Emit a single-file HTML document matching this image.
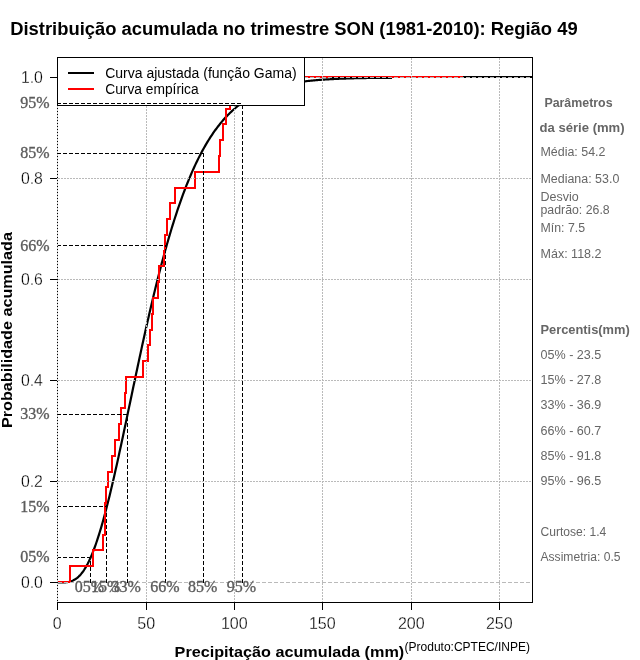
<!DOCTYPE html>
<html><head><meta charset="utf-8"><title>Distribuição acumulada</title>
<style>
html,body{margin:0;padding:0;background:#fff;}
body{width:640px;height:660px;overflow:hidden;font-family:"Liberation Sans",sans-serif;}
svg{display:block;font-family:"Liberation Sans",sans-serif;will-change:transform;transform:translateZ(0);}
.serif{font-family:"Liberation Serif",serif;}
</style></head><body>
<svg width="640" height="660" viewBox="0 0 640 660">
<rect x="0" y="0" width="640" height="660" fill="#fff"/>
<!-- curves -->
<path d="M57.50,582.50 L58.38,582.50 L59.27,582.50 L60.15,582.50 L61.04,582.49 L61.92,582.48 L62.80,582.46 L63.69,582.44 L64.57,582.39 L65.46,582.33 L66.34,582.25 L67.22,582.14 L68.11,582.00 L68.99,581.83 L69.88,581.61 L70.76,581.36 L71.64,581.06 L72.53,580.71 L73.41,580.30 L74.30,579.84 L75.18,579.31 L76.06,578.72 L76.95,578.06 L77.83,577.33 L78.72,576.52 L79.60,575.64 L80.48,574.68 L81.37,573.64 L82.25,572.51 L83.14,571.30 L84.02,570.01 L84.90,568.63 L85.79,567.15 L86.67,565.59 L87.56,563.94 L88.44,562.20 L89.32,560.37 L90.21,558.45 L91.09,556.44 L91.98,554.34 L92.86,552.15 L93.74,549.87 L94.63,547.50 L95.51,545.05 L96.40,542.51 L97.28,539.89 L98.16,537.19 L99.05,534.41 L99.93,531.54 L100.82,528.60 L101.70,525.59 L102.58,522.50 L103.47,519.34 L104.35,516.10 L105.24,512.81 L106.12,509.45 L107.00,506.02 L107.89,502.54 L108.77,498.99 L109.66,495.39 L110.54,491.74 L111.42,488.04 L112.31,484.29 L113.19,480.49 L114.08,476.65 L114.96,472.77 L115.84,468.86 L116.73,464.90 L117.61,460.91 L118.50,456.90 L119.38,452.85 L120.26,448.78 L121.15,444.68 L122.03,440.56 L122.92,436.42 L123.80,432.27 L124.68,428.10 L125.57,423.92 L126.45,419.73 L127.34,415.53 L128.22,411.33 L129.10,407.12 L129.99,402.91 L130.87,398.70 L131.76,394.50 L132.64,390.29 L133.52,386.10 L134.41,381.91 L135.29,377.73 L136.18,373.56 L137.06,369.40 L137.94,365.26 L138.83,361.13 L139.71,357.02 L140.60,352.93 L141.48,348.86 L142.36,344.80 L143.25,340.78 L144.13,336.77 L145.02,332.79 L145.90,328.84 L146.78,324.91 L147.67,321.01 L148.55,317.14 L149.44,313.30 L150.32,309.49 L151.20,305.71 L152.09,301.96 L152.97,298.25 L153.86,294.57 L154.74,290.93 L155.62,287.31 L156.51,283.74 L157.39,280.20 L158.28,276.70 L159.16,273.23 L160.04,269.81 L160.93,266.42 L161.81,263.07 L162.70,259.75 L163.58,256.48 L164.46,253.24 L165.35,250.05 L166.23,246.89 L167.12,243.77 L168.00,240.69 L168.88,237.66 L169.77,234.66 L170.65,231.70 L171.54,228.78 L172.42,225.90 L173.30,223.06 L174.19,220.27 L175.07,217.51 L175.96,214.79 L176.84,212.11 L177.72,209.47 L178.61,206.87 L179.49,204.31 L180.38,201.79 L181.26,199.30 L182.14,196.86 L183.03,194.45 L183.91,192.08 L184.80,189.75 L185.68,187.46 L186.56,185.20 L187.45,182.98 L188.33,180.80 L189.22,178.66 L190.10,176.55 L190.98,174.47 L191.87,172.43 L192.75,170.43 L193.64,168.46 L194.52,166.53 L195.40,164.63 L196.29,162.77 L197.17,160.93 L198.06,159.13 L198.94,157.37 L199.82,155.63 L200.71,153.93 L201.59,152.26 L202.48,150.62 L203.36,149.01 L204.24,147.43 L205.13,145.88 L206.01,144.36 L206.90,142.87 L207.78,141.41 L208.66,139.98 L209.55,138.57 L210.43,137.19 L211.32,135.84 L212.20,134.52 L213.08,133.22 L213.97,131.95 L214.85,130.70 L215.74,129.48 L216.62,128.28 L217.50,127.11 L218.39,125.96 L219.27,124.84 L220.16,123.74 L221.04,122.66 L221.92,121.60 L222.81,120.57 L223.69,119.55 L224.58,118.56 L225.46,117.59 L226.34,116.64 L227.23,115.71 L228.11,114.80 L229.00,113.91 L229.88,113.04 L230.76,112.19 L231.65,111.36 L232.53,110.54 L233.42,109.75 L234.30,108.97 L235.18,108.20 L236.07,107.46 L236.95,106.73 L237.84,106.01 L238.72,105.32 L239.60,104.64 L240.49,103.97 L241.37,103.32 L242.26,102.68 L243.14,102.06 L244.02,101.45 L244.91,100.86 L245.79,100.28 L246.68,99.71 L247.56,99.16 L248.44,98.62 L249.33,98.09 L250.21,97.57 L251.10,97.07 L251.98,96.57 L252.86,96.09 L253.75,95.62 L254.63,95.16 L255.52,94.72 L256.40,94.28 L257.28,93.85 L258.17,93.44 L259.05,93.03 L259.94,92.63 L260.82,92.24 L261.70,91.87 L262.59,91.50 L263.47,91.14 L264.36,90.78 L265.24,90.44 L266.12,90.11 L267.01,89.78 L267.89,89.46 L268.78,89.15 L269.66,88.85 L270.54,88.55 L271.43,88.26 L272.31,87.98 L273.20,87.71 L274.08,87.44 L274.96,87.18 L275.85,86.92 L276.73,86.68 L277.62,86.43 L278.50,86.20 L279.38,85.97 L280.27,85.74 L281.15,85.52 L282.04,85.31 L282.92,85.10 L283.80,84.90 L284.69,84.70 L285.57,84.51 L286.46,84.32 L287.34,84.14 L288.22,83.96 L289.11,83.79 L289.99,83.62 L290.88,83.46 L291.76,83.30 L292.64,83.14 L293.53,82.99 L294.41,82.84 L295.30,82.69 L296.18,82.55 L297.06,82.42 L297.95,82.28 L298.83,82.15 L299.72,82.03 L300.60,81.90 L301.48,81.78 L302.37,81.67 L303.25,81.55 L304.14,81.44 L305.02,81.33 L305.90,81.23 L306.79,81.12 L307.67,81.03 L308.56,80.93 L309.44,80.83 L310.32,80.74 L311.21,80.65 L312.09,80.56 L312.98,80.48 L313.86,80.40 L314.74,80.32 L315.63,80.24 L316.51,80.16 L317.40,80.09 L318.28,80.02 L319.16,79.95 L320.05,79.88 L320.93,79.81 L321.82,79.75 L322.70,79.68 L323.58,79.62 L324.47,79.56 L325.35,79.51 L326.24,79.45 L327.12,79.39 L328.00,79.34 L328.89,79.29 L329.77,79.24 L330.66,79.19 L331.54,79.14 L332.42,79.10 L333.31,79.05 L334.19,79.01 L335.08,78.96 L335.96,78.92 L336.84,78.88 L337.73,78.84 L338.61,78.80 L339.50,78.77 L340.38,78.73 L341.26,78.70 L342.15,78.66 L343.03,78.63 L343.92,78.60 L344.80,78.56 L345.68,78.53 L346.57,78.50 L347.45,78.48 L348.34,78.45 L349.22,78.42 L350.10,78.39 L350.99,78.37 L351.87,78.34 L352.76,78.32 L353.64,78.30 L354.52,78.27 L355.41,78.25 L356.29,78.23 L357.18,78.21 L358.06,78.19 L358.94,78.17 L359.83,78.15 L360.71,78.13 L361.60,78.11 L362.48,78.09 L363.36,78.08 L364.25,78.06 L365.13,78.04 L366.02,78.03 L366.90,78.01 L367.78,78.00 L368.67,77.98 L369.55,77.97 L370.44,77.95 L371.32,77.94 L372.20,77.93 L373.09,77.92 L373.97,77.90 L374.86,77.89 L375.74,77.88 L376.62,77.87 L377.51,77.86 L378.39,77.85 L379.28,77.84 L380.16,77.83 L381.04,77.82 L381.93,77.81 L382.81,77.80 L383.70,77.79 L384.58,77.78 L385.46,77.77 L386.35,77.77 L387.23,77.76 L388.12,77.75 L389.00,77.74 L389.88,77.74 L390.77,77.73 L391.65,77.72 L391.86,77.72" fill="none" stroke="#000" stroke-width="2.2" stroke-linejoin="round"/>
<path d="M57,582 H70.0 V566.0 H93.0 V550.0 H103.0 V535.0 H105.0 V519.0 H105.0 V503.0 H106.0 V487.0 H107.5 V472.0 H112.0 V456.0 H115.0 V440.0 H119.0 V424.0 H121.0 V408.0 H125.0 V393.0 H126.0 V377.0 H143.0 V361.0 H148.0 V345.0 H150.0 V330.0 H152.0 V314.0 H153.0 V298.0 H158.0 V282.0 H159.0 V266.0 H164.0 V251.0 H165.0 V235.0 H166.5 V219.0 H170.0 V203.0 H175.0 V188.0 H195.0 V172.0 H219.0 V156.0 H220.0 V140.0 H223.0 V124.0 H226.0 V109.0 H230.0 V93.0 H266.0 V77.0 H463" fill="none" stroke="#ff0000" stroke-width="2" shape-rendering="crispEdges"/>
<!-- grid -->
<g fill="none" stroke="#bababa" stroke-width="1" stroke-dasharray="2 1" shape-rendering="crispEdges">
<path d="M146.5,58 V602" />
<path d="M234.5,58 V602" />
<path d="M322.5,58 V602" />
<path d="M411.5,58 V602" />
<path d="M499.5,58 V602" />
<path d="M58,481.5 H532" />
<path d="M58,380.5 H532" />
<path d="M58,279.5 H532" />
<path d="M58,178.5 H532" />
</g>
<path d="M330,78 H392 M463,77 H532" fill="none" stroke="#000" stroke-width="2" shape-rendering="crispEdges"/>
<path d="M58,582.5 H532 M58,77.5 H532" fill="none" stroke="#bababa" stroke-width="1" stroke-dasharray="4 2" shape-rendering="crispEdges"/>
<!-- legend -->
<rect x="57.5" y="57.5" width="247" height="48" fill="#fff" stroke="#000" stroke-width="1" shape-rendering="crispEdges"/>
<path d="M68,73 H94" stroke="#000" stroke-width="2" shape-rendering="crispEdges"/>
<path d="M68,89 H94" stroke="#ff0000" stroke-width="2" shape-rendering="crispEdges"/>
<g font-size="14px" fill="#000">
<text x="105.2" y="77.7">Curva ajustada (função Gama)</text>
<text x="105.2" y="93.9" textLength="93.4" lengthAdjust="spacingAndGlyphs">Curva empírica</text>
</g>
<!-- quantile dashed lines -->
<g fill="none" stroke="#000" stroke-width="1" stroke-dasharray="4 2" shape-rendering="crispEdges">
<path d="M57,557.5 H91.0" />
<path d="M90.5,583 V557.0" />
<path d="M57,506.5 H107.0" />
<path d="M106.5,583 V506.0" />
<path d="M57,414.5 H128.0" />
<path d="M127.5,583 V414.0" />
<path d="M57,245.5 H166.0" />
<path d="M165.5,583 V245.0" />
<path d="M57,153.5 H204.0" />
<path d="M203.5,583 V153.0" />
<path d="M57,103.5 H243.0" />
<path d="M242.5,583 V103.0" />
</g>
<!-- box -->
<path d="M57,57.5 H532.5 V602.5 H57" fill="none" stroke="#000" stroke-width="1" shape-rendering="crispEdges"/>
<path d="M57.5,106 V602" fill="none" stroke="#d0d0d0" stroke-width="1" shape-rendering="crispEdges"/>
<path d="M57.5,105 V602" fill="none" stroke="#000" stroke-width="1" stroke-dasharray="1 2" shape-rendering="crispEdges"/>
<g fill="none" stroke="#000" stroke-width="1" shape-rendering="crispEdges">
<path d="M57.5,602 V610" />
<path d="M146.5,602 V610" />
<path d="M234.5,602 V610" />
<path d="M322.5,602 V610" />
<path d="M411.5,602 V610" />
<path d="M499.5,602 V610" />
<path d="M50,582.5 H57" />
<path d="M50,481.5 H57" />
<path d="M50,380.5 H57" />
<path d="M50,279.5 H57" />
<path d="M50,178.5 H57" />
<path d="M50,77.5 H57" />
</g>
<g font-size="17px" fill="#000" stroke="#fff" stroke-width="0.3">
<text x="57.3" y="629" text-anchor="middle" textLength="8.9" lengthAdjust="spacingAndGlyphs">0</text>
<text x="146.3" y="629" text-anchor="middle" textLength="17.9" lengthAdjust="spacingAndGlyphs">50</text>
<text x="234.3" y="629" text-anchor="middle" textLength="26.8" lengthAdjust="spacingAndGlyphs">100</text>
<text x="322.3" y="629" text-anchor="middle" textLength="26.8" lengthAdjust="spacingAndGlyphs">150</text>
<text x="411.3" y="629" text-anchor="middle" textLength="26.8" lengthAdjust="spacingAndGlyphs">200</text>
<text x="499.3" y="629" text-anchor="middle" textLength="26.8" lengthAdjust="spacingAndGlyphs">250</text>
<text x="42.9" y="588.2" text-anchor="end" textLength="22" lengthAdjust="spacingAndGlyphs">0.0</text>
<text x="42.9" y="487.2" text-anchor="end" textLength="22" lengthAdjust="spacingAndGlyphs">0.2</text>
<text x="42.9" y="386.2" text-anchor="end" textLength="22" lengthAdjust="spacingAndGlyphs">0.4</text>
<text x="42.9" y="285.2" text-anchor="end" textLength="22" lengthAdjust="spacingAndGlyphs">0.6</text>
<text x="42.9" y="184.2" text-anchor="end" textLength="22" lengthAdjust="spacingAndGlyphs">0.8</text>
<text x="42.9" y="83.2" text-anchor="end" textLength="22" lengthAdjust="spacingAndGlyphs">1.0</text>
</g>
<g class="serif" font-size="16px" fill="#5c5c5c" stroke="#5c5c5c" stroke-width="0.35">
<text x="49.5" y="562.3" text-anchor="end">05%</text>
<text x="89.4" y="592" text-anchor="middle">05%</text>
<text x="49.5" y="511.8" text-anchor="end">15%</text>
<text x="105.7" y="592" text-anchor="middle">15%</text>
<text x="49.5" y="419.2" text-anchor="end">33%</text>
<text x="126.2" y="592" text-anchor="middle">33%</text>
<text x="49.5" y="250.9" text-anchor="end">66%</text>
<text x="164.8" y="592" text-anchor="middle">66%</text>
<text x="49.5" y="158.3" text-anchor="end">85%</text>
<text x="202.7" y="592" text-anchor="middle">85%</text>
<text x="49.5" y="107.8" text-anchor="end">95%</text>
<text x="241.5" y="592" text-anchor="middle">95%</text>
</g>
<g font-size="12px" fill="#666">
<text x="544.4" y="106.8" font-weight="bold" textLength="68.2" lengthAdjust="spacingAndGlyphs">Parâmetros</text>
<text x="539.6" y="131.8" font-weight="bold" textLength="85.0" lengthAdjust="spacingAndGlyphs">da série (mm)</text>
<text x="540.5" y="156.3" textLength="65.0" lengthAdjust="spacingAndGlyphs">Média: 54.2</text>
<text x="540.5" y="182.5" textLength="78.8" lengthAdjust="spacingAndGlyphs">Mediana: 53.0</text>
<text x="540.5" y="200.9" textLength="38.2" lengthAdjust="spacingAndGlyphs">Desvio</text>
<text x="540.5" y="214.3" textLength="69.2" lengthAdjust="spacingAndGlyphs">padrão: 26.8</text>
<text x="540.5" y="232.4" textLength="44.6" lengthAdjust="spacingAndGlyphs">Mín: 7.5</text>
<text x="540.5" y="257.7" textLength="61.0" lengthAdjust="spacingAndGlyphs">Máx: 118.2</text>
<text x="540.5" y="333.5" font-weight="bold" textLength="89.2" lengthAdjust="spacingAndGlyphs">Percentis(mm)</text>
<text x="540.5" y="358.6" textLength="60.8" lengthAdjust="spacingAndGlyphs">05% - 23.5</text>
<text x="540.5" y="383.9" textLength="60.8" lengthAdjust="spacingAndGlyphs">15% - 27.8</text>
<text x="540.5" y="409.3" textLength="60.8" lengthAdjust="spacingAndGlyphs">33% - 36.9</text>
<text x="540.5" y="434.6" textLength="60.8" lengthAdjust="spacingAndGlyphs">66% - 60.7</text>
<text x="540.5" y="459.8" textLength="60.8" lengthAdjust="spacingAndGlyphs">85% - 91.8</text>
<text x="540.5" y="485.0" textLength="60.8" lengthAdjust="spacingAndGlyphs">95% - 96.5</text>
<text x="540.5" y="535.8" textLength="65.8" lengthAdjust="spacingAndGlyphs">Curtose: 1.4</text>
<text x="540.5" y="560.7" textLength="80.0" lengthAdjust="spacingAndGlyphs">Assimetria: 0.5</text>
</g>
<text x="10.2" y="35" font-size="17.6px" font-weight="bold" fill="#000" textLength="567.5" lengthAdjust="spacingAndGlyphs">Distribuição acumulada no trimestre SON (1981-2010): Região 49</text>
<text transform="translate(12,428) rotate(-90)" font-size="15.4px" font-weight="bold" fill="#000" textLength="196" lengthAdjust="spacingAndGlyphs">Probabilidade acumulada</text>
<text x="174.6" y="657.2" font-size="15.4px" font-weight="bold" fill="#000" textLength="229.6" lengthAdjust="spacingAndGlyphs">Precipitação acumulada (mm)</text>
<text x="404.6" y="651.3" font-size="12px" fill="#000">(Produto:CPTEC/INPE)</text>
</svg>
</body></html>
